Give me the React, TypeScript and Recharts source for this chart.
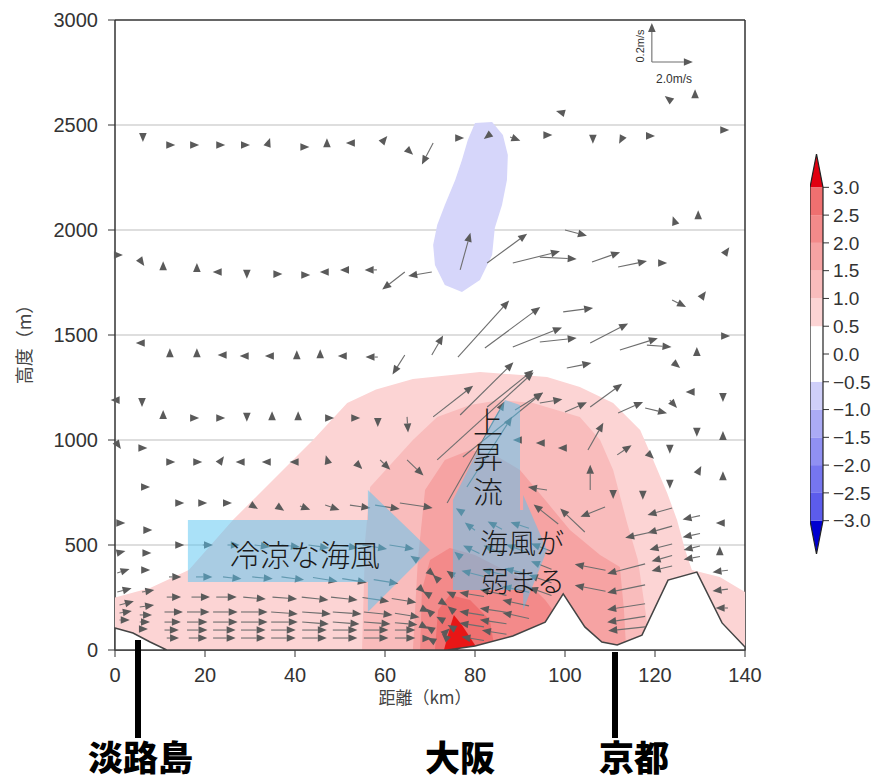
import React from 'react';
import { ScatterChart, Scatter, XAxis, YAxis, ReferenceLine } from 'recharts';

type Pt = [number, number];
type Vec = [number, number, number, number]; // x (km), z (m), u (m/s), w (m/s)

// axes
const distanceTicks = [0, 20, 40, 60, 80, 100, 120, 140];
const heightTicks = [0, 500, 1000, 1500, 2000, 2500, 3000];
const gridHeights = [500, 1000, 1500, 2000, 2500];

// temperature anomaly contours (km, m)
const contour05: Pt[] = [[0, 0], [0, 250], [7.8, 295], [16.4, 381], [26.2, 619], [44, 1000], [51.6, 1176], [58, 1240], [66.2, 1290], [81.1, 1324], [96, 1300], [103.3, 1252], [110.7, 1176], [116.7, 1048], [119.6, 905], [122.7, 748], [124.9, 619], [126.7, 476], [128.2, 381], [134.4, 348], [140, 276], [140, 0]];
const contour10: Pt[] = [[54.9, 0], [55.6, 524], [56.7, 776], [66.2, 1000], [71.6, 1110], [78.9, 1167], [85.6, 1190], [92.9, 1176], [103.3, 1110], [107.8, 1000], [110.7, 857], [113.8, 605], [116.2, 429], [118, 167], [118.9, 0]];
const contour15: Pt[] = [[66.2, 0], [67.3, 429], [68.9, 762], [73.3, 905], [78.9, 952], [84.4, 929], [90, 857], [95.6, 714], [101.1, 571], [107.8, 452], [112.2, 395], [113.1, 190], [113.6, 0]];
const contour20: Pt[] = [[67.8, 0], [68.2, 286], [70, 429], [74.4, 486], [80, 452], [85.6, 390], [91.1, 333], [95.6, 238], [98.9, 143], [100, 0]];
const contour25: Pt[] = [[71.1, 0], [71.8, 190], [74.4, 262], [78.9, 238], [83.3, 143], [84.4, 0]];
const contour30: Pt[] = [[73.1, 0], [74.4, 105], [75.3, 167], [77.1, 119], [80, 24], [80, 0]];
const contourNeg05: Pt[] = [[80, 2510], [83.8, 2514], [86.2, 2452], [87.3, 2357], [87.1, 2238], [86, 2119], [84.4, 2010], [83.8, 1881], [81.1, 1762], [77.1, 1705], [73.3, 1738], [71.1, 1833], [70.7, 1929], [71.6, 2024], [73.3, 2119], [75.6, 2238], [77.1, 2333], [78.4, 2429]];

// terrain profile
const terrain: Pt[] = [[0, 0], [0, 105], [4, 81], [7.8, 38], [11.5, 0], [73.8, 0], [80, 19], [88.4, 67], [95.6, 133], [99.6, 267], [104.4, 110], [108.2, 38], [111.6, 24], [117.1, 71], [122.9, 333], [129.3, 371], [134.9, 129], [140, 14], [140, 0]];

// annotation arrows
const coolBreezeArrow: Pt[] = [[16.2, 619], [56.2, 619], [56.2, 762], [70, 476], [56.2, 181], [56.2, 324], [16.2, 324]];
const updraftArrow: Pt[] = [[75.1, 667], [75.1, 714], [84, 1095], [86.7, 1190], [90, 1167], [90, 667]];
const weakBreezeArrow: Pt[] = [[75.1, 667], [90.7, 667], [90.7, 738], [96, 476], [90.7, 190], [90.7, 286], [75.1, 286]];

// wind vectors
const windRow2400: Vec[] = [[6.2, 2452, 0, -0.035], [11.8, 2405, 0.35, 0], [17.1, 2405, 0.35, 0], [22.9, 2405, 0.35, 0], [28.4, 2405, 0.35, 0], [34, 2410, 0.1, 0.03], [41.6, 2395, 0.35, 0], [47.1, 2405, 0, 0.035], [52.9, 2414, -0.35, 0], [59.6, 2424, 0.2, 0.025], [65.1, 2381, 0.25, -0.025], [70.7, 2414, -0.55, -0.11], [76, 2438, 0.35, 0], [83.1, 2452, -0.25, -0.02], [87.8, 2443, 0.5, -0.02], [95.6, 2452, 0.35, 0], [99.6, 2557, -0.35, 0.01], [106.2, 2443, 0, -0.035], [112.7, 2438, -0.15, -0.03], [118.4, 2448, 0.35, 0], [123.3, 2619, -0.25, 0.02], [128.9, 2638, 0, 0.035], [134.9, 2476, 0.35, 0]];
const windRow1850: Vec[] = [[0.4, 1881, 0.3, 0], [5.6, 1857, 0.2, -0.03], [10.7, 1819, 0, 0.035], [18.2, 1810, 0, 0.035], [23.3, 1800, -0.35, 0], [29.3, 1800, 0, -0.035], [35.6, 1790, 0.35, 0], [41.8, 1786, 0.35, 0], [47.1, 1800, -0.35, 0], [51.6, 1810, -0.35, 0], [58.2, 1810, -0.6, 0], [64.4, 1800, -1.1, -0.09], [70.4, 1800, -1.15, -0.02], [76.7, 1810, 0.5, 0.19], [82.7, 1843, 1.95, 0.15], [88.4, 1843, 2.3, 0.06], [94.4, 1871, 1.8, -0.01], [100, 2000, 1.07, -0.03], [106, 1848, 1.37, 0.05], [111.8, 1824, 1.41, 0.03], [121.1, 1843, 0.35, 0], [124.4, 2038, -0.1, 0.03], [129.6, 2062, 0, 0.035], [135.6, 1890, 0.2, 0.03]];
const windRow1400: Vec[] = [[6.2, 1462, -0.35, 0], [12.2, 1405, 0, 0.035], [18.2, 1405, 0, 0.035], [24.4, 1405, -0.35, 0], [29.3, 1400, -0.35, 0], [34.9, 1400, -0.35, 0], [40.4, 1395, 0, 0.035], [45.6, 1400, 0, 0.035], [51.1, 1400, -0.35, 0], [58.4, 1395, -0.6, 0], [64.4, 1405, -0.6, -0.1], [70.4, 1405, 0.55, 0.1], [76.2, 1395, 2.5, 0.29], [82.2, 1438, 2.7, 0.21], [88.4, 1443, 2.4, 0.1], [94.4, 1467, 1.8, 0.02], [100.4, 1343, 1.2, 0.025], [105.6, 1462, 1.85, 0.1], [112.2, 1429, 1.85, 0.06], [118.2, 1452, 1.2, -0.01], [124, 1371, 0.35, -0.03], [129.3, 1410, 0, 0.035], [135.1, 1495, 0.35, 0], [99.6, 1610, 1.46, 0.02], [123.8, 1667, 0.68, -0.036], [130.4, 1681, 0.2, 0.03]];
const windRow1100: Vec[] = [[0.4, 1190, -0.3, 0], [6, 1190, 0, -0.035], [10.7, 1110, 0, 0.035], [17.1, 1105, 0.35, 0], [22.9, 1105, 0.35, 0], [29.3, 1119, 0, -0.035], [34.9, 1105, 0, 0.035], [40.7, 1105, 0, 0.035], [47.1, 1105, 0.35, 0], [52.9, 1105, 0.35, 0], [58.4, 1095, 0, -0.035], [64.9, 1110, 0.05, -0.08], [70.7, 1110, 1.95, 0.16], [76.7, 1119, 2.6, 0.27], [82.7, 1157, 2.25, 0.19], [88.9, 1143, 1.37, 0.09], [94.4, 1176, 1.1, 0.02], [100, 1133, 1.07, 0.05], [105.6, 1157, 1.56, 0.12], [111.8, 1129, 1.22, 0.056], [117.8, 1152, 1.07, -0.026], [123.3, 1190, 0.35, -0.04], [128.4, 1229, -0.35, 0], [135.1, 1214, 0, -0.035]];
const windRow900: Vec[] = [[0.4, 985, 0.2, -0.03], [5.6, 962, 0.35, 0], [11.8, 895, 0.35, 0], [17.8, 895, 0.35, 0], [23.3, 895, 0.2, 0.03], [28.4, 895, -0.35, 0], [34.2, 895, -0.35, 0], [40.4, 895, -0.35, 0], [47.3, 895, -0.1, 0.035], [53.6, 890, 0.3, -0.03], [58.9, 905, 0.5, -0.05], [64.9, 905, 0.8, -0.08], [71.6, 905, 4.7, 0.45], [77.3, 919, 3.9, 0.33], [90, 1000, -0.35, 0], [95.1, 986, -0.35, 0], [100, 962, -0.35, 0], [105.1, 952, 0.75, 0.14], [111.6, 929, 0.7, 0.05], [118.4, 938, 0.3, -0.03], [123.3, 967, 0, -0.035], [129.3, 1048, 0, -0.035], [135.1, 1010, 0, 0.035]];
const windRow700: Vec[] = [[6.2, 776, 0.35, 0], [13.8, 700, 0.35, 0], [18.9, 700, 0.35, 0], [24.4, 700, 0.35, 0], [30.4, 690, 0.3, -0.02], [36, 686, 0.35, -0.025], [41.1, 686, 0.5, -0.02], [46.7, 690, 0.7, -0.025], [52.2, 690, 1.0, -0.015], [57.8, 690, 1.2, -0.02], [63.3, 700, 1.6, -0.025], [73.8, 700, 2.8, 0.52], [78.2, 776, 2.2, 0.36], [77.1, 657, -0.3, 0.02], [96, 762, -0.93, 0.015], [105.6, 762, 0, 0.13], [110.7, 752, 0, -0.035], [117.3, 748, 0, -0.035], [123.3, 800, 0, -0.035], [129.6, 848, 0.15, 0.03], [135.1, 819, 0, 0.035]];
const windRow500: Vec[] = [[0.7, 605, 0.35, 0], [6.7, 571, 0.35, 0], [0.5, 462, 0.4, 0.01], [6.5, 462, 0.35, 0], [13.8, 500, 0.35, 0], [19.5, 500, 0.5, 0], [25, 500, 0.6, 0], [31, 500, 0.75, -0.01], [37, 500, 0.9, -0.01], [43, 500, 1.0, -0.015], [49, 500, 1.1, -0.015], [55, 500, 1.2, -0.02], [61, 500, 1.2, -0.02]];
const windRow350: Vec[] = [[0.5, 367, 0.6, 0.02], [6, 381, 0.4, 0], [12, 348, 0.6, 0], [18, 348, 0.8, 0], [24, 348, 0.9, -0.01], [30.5, 348, 1.0, -0.01], [37, 348, 1.1, -0.015], [44, 345, 1.2, -0.02], [50.5, 340, 1.2, -0.02], [57.5, 335, 1.2, -0.02]];
const windRow250: Vec[] = [[0.5, 276, 0.7, 0.02], [6, 276, 0.6, 0.01], [11.5, 252, 0.7, 0], [17, 252, 0.9, 0], [22.5, 252, 1.0, 0], [28.5, 252, 1.1, -0.01], [35, 252, 1.2, -0.01], [41.5, 252, 1.3, -0.015], [48, 252, 1.3, -0.015], [55, 250, 1.3, -0.02], [61.5, 245, 1.2, -0.02]];
const windRow180: Vec[] = [[1, 214, 0.7, 0.02], [5.5, 205, 0.7, 0.01], [11, 181, 0.9, 0], [16, 181, 1.1, 0], [21.8, 181, 1.2, 0], [28, 181, 1.3, 0], [34.7, 181, 1.3, -0.01], [41.6, 181, 1.4, -0.01], [48.4, 181, 1.4, -0.01], [55.3, 181, 1.4, -0.015], [62.2, 175, 1.2, -0.02]];
const windRow130: Vec[] = [[1, 176, 0.6, 0.01], [5.5, 167, 0.6, 0], [11, 133, 0.8, 0], [16, 133, 1.0, 0], [21.8, 133, 1.2, 0], [28, 133, 1.3, 0], [34.7, 133, 1.3, 0], [41.6, 133, 1.3, -0.01], [48.4, 133, 1.3, -0.01], [55.3, 133, 1.3, -0.01], [62.2, 130, 1.1, -0.01]];
const windRow95: Vec[] = [[1, 143, 0.5, 0], [5.5, 133, 0.5, 0], [11, 95, 0.7, 0], [16, 95, 1.0, 0], [21.8, 95, 1.1, 0], [28, 95, 1.2, 0], [34.7, 95, 1.2, 0], [41.6, 95, 1.2, 0], [48.4, 95, 1.2, 0], [55.3, 95, 1.2, 0], [62.2, 95, 1.0, 0]];
const windRow57: Vec[] = [[5.5, 100, 0.4, 0], [11.5, 57, 0.6, 0], [16.4, 57, 0.9, 0], [21.8, 57, 1.1, 0], [28, 57, 1.2, 0], [34.7, 57, 1.2, 0], [41.6, 57, 1.2, 0], [48.4, 57, 1.2, 0], [55.3, 57, 1.2, 0], [62.2, 57, 1.0, 0]];
const convergenceZone: Vec[] = [[67, 430, -0.3, 0.02], [69.5, 380, 0.35, -0.03], [72, 330, -0.3, 0.03], [67.5, 300, 0.3, -0.03], [70, 260, -0.35, 0.02], [72.5, 230, 0.3, -0.02], [68, 200, 0.4, -0.02], [70.5, 170, -0.3, 0.03], [73, 140, -0.35, 0.02], [68, 120, 0.35, -0.02], [70.5, 95, -0.3, 0.02], [73, 75, 0.3, 0.03], [68.5, 55, 0.4, 0], [71, 40, -0.35, 0.02], [74, 50, -0.3, 0.03], [75.5, 100, -0.35, 0.02], [75.5, 180, -0.35, 0.03], [75.5, 260, -0.4, 0.02], [75.5, 350, -0.4, 0.03], [77, 440, -0.35, 0.03]];
const easterlyRows: Vec[] = [[82, 45, -1.1, 0.02], [87, 75, -1.2, 0.02], [82, 110, -1.2, 0.02], [87, 125, -1.3, 0.02], [92, 150, -1.3, 0.03], [82, 165, -1.2, 0.02], [87, 180, -1.3, 0.02], [92, 210, -1.3, 0.03], [97, 260, -1.1, 0.04], [82, 255, -1.2, 0.02], [87, 260, -1.3, 0.03], [92, 275, -1.3, 0.03], [97, 320, -1.1, 0.04], [82, 350, -1.1, 0.03], [87, 355, -1.2, 0.03], [92, 360, -1.2, 0.03], [97, 385, -1.0, 0.04], [81, 460, -0.8, 0.04], [86, 460, -0.9, 0.04], [91.5, 465, -1.0, 0.04], [97, 470, -1.0, 0.04], [80, 570, -0.5, 0.04], [86, 575, -0.7, 0.04], [92, 580, -0.9, 0.03], [98.5, 600, -1.2, 0.1]];
const kyotoValley: Vec[] = [[117.8, 410, -1.85, -0.05], [117.8, 310, -1.85, -0.04], [117.8, 220, -1.85, -0.03], [117.8, 160, -1.85, -0.03], [117.8, 110, -1.8, -0.02], [109, 380, -1.5, 0.03], [109, 280, -1.5, 0.03], [123.8, 676, -1.2, -0.036], [123.8, 590, -1.2, -0.036], [123.8, 505, -1.1, -0.03], [123.8, 450, -1.0, -0.03], [123.8, 400, -1.0, -0.025], [130, 640, -0.85, -0.02], [130, 555, -0.85, -0.02], [130, 495, -0.8, -0.02], [130, 445, -0.8, -0.015], [136.2, 380, -0.75, -0.01], [136.2, 290, -0.75, -0.01], [136.2, 200, -0.6, 0], [135.1, 605, -0.35, 0], [134.4, 462, 0, 0.035], [104.4, 562, -1.2, 0.12], [119.3, 562, -1.3, -0.03], [108.9, 681, -1.2, -0.05]];

// reference vectors (2.0 m/s horizontal, 0.2 m/s vertical)
const vectorKey: Vec[] = [[119.3, 2800, 2.0, 0], [119.3, 2800, 0, 0.2]];

// colour bar
const colorLevels = [-3, -2.5, -2, -1.5, -1, -0.5, 0, 0.5, 1, 1.5, 2, 2.5, 3];
const levelColors = ['#5c5cec', '#7676ef', '#9090f2', '#ababf5', '#cfcff9', '#ffffff', '#ffffff', '#fcd4d4', '#f9bcbc', '#f6a3a3', '#f38a8a', '#ef7070'];

const U_PX = 20.5; // px per m/s (horizontal)
const W_PX = 195; // px per m/s (vertical)

const toXY = (pts: Pt[]) => pts.map(([x, y]) => ({ x, y }));
const toVec = (rows: Vec[]) => rows.map(([x, y, u, w]) => ({ x, y, u, w }));

const polygonLine = (fill: string, stroke = 'none', strokeWidth = 0) => (props: any) => {
    const pts = (props.points || []).map((p: any) => `${p.x},${p.y}`).join(' ');
    return <polygon points={pts} fill={fill} stroke={stroke} strokeWidth={strokeWidth} />;
};
const noDot = () => <g />;

const VectorShape = (props: any) => {
    const { cx, cy, payload } = props;
    if (cx == null || cy == null || !payload) return <g />;
    const dx = payload.u * U_PX;
    const dy = -payload.w * W_PX;
    const len = Math.hypot(dx, dy);
    if (!len) return <g />;
    const ux = dx / len;
    const uy = dy / len;
    const tx = cx + dx;
    const ty = cy + dy;
    const hl = 9;
    const hw = 3.8;
    const bx = tx - ux * hl;
    const by = ty - uy * hl;
    return (
        <g>
            {len > hl && <line x1={cx} y1={cy} x2={bx} y2={by} stroke="#6e6e6e" strokeWidth={1.1} />}
            <polygon
                points={`${tx},${ty} ${bx - uy * hw},${by + ux * hw} ${bx + uy * hw},${by - ux * hw}`}
                fill="#5a5a5a"
            />
        </g>
    );
};

const allVectors = toVec([
    ...windRow2400, ...windRow1850, ...windRow1400, ...windRow1100, ...windRow900, ...windRow700,
    ...windRow500, ...windRow350, ...windRow250, ...windRow180, ...windRow130, ...windRow95, ...windRow57,
    ...convergenceZone, ...easterlyRows, ...kyotoValley,
]);

const contourLayers: { pts: Pt[]; fill: string }[] = [
    { pts: contour05, fill: levelColors[7] },
    { pts: contour10, fill: levelColors[8] },
    { pts: contour15, fill: levelColors[9] },
    { pts: contour20, fill: levelColors[10] },
    { pts: contour25, fill: levelColors[11] },
    { pts: contour30, fill: '#e81616' },
    { pts: contourNeg05, fill: '#d6d6fa' },
];

const annotationFill = 'rgba(85,195,241,0.5)';
const tickFont = { fill: '#333', fontSize: 20, fontFamily: '"Liberation Sans", Arial, sans-serif' };
const jp = '"Noto Sans CJK JP", sans-serif';

const fmtLevel = (v: number) => (v < 0 ? '\u2212' : '') + Math.abs(v).toFixed(1);

function ColorBar() {
    const segments = levelColors.map((c, i) => ({
        pts: [[0, colorLevels[i]], [1, colorLevels[i]], [1, colorLevels[i + 1]], [0, colorLevels[i + 1]]] as Pt[],
        fill: c,
    }));
    const topTip: Pt[] = [[0, 3], [1, 3], [0.5, 3.6]];
    const bottomTip: Pt[] = [[0, -3], [1, -3], [0.5, -3.6]];
    const outline: Pt[] = [[0, -3], [0, 3], [0.5, 3.6], [1, 3], [1, -3], [0.5, -3.6]];
    return (
        <ScatterChart width={80} height={400} margin={{ top: 0, right: 7, bottom: 0, left: 0 }}>
            <XAxis dataKey="x" type="number" domain={[0, 1]} hide />
            <YAxis
                dataKey="y"
                type="number"
                orientation="right"
                domain={[-3.6, 3.6]}
                ticks={colorLevels}
                interval={0}
                width={60}
                axisLine={false}
                tickLine={{ stroke: '#333' }}
                tickSize={6}
                tickMargin={4}
                tickFormatter={fmtLevel}
                tick={{ ...tickFont, fontSize: 19, textAnchor: 'start' }}
            />
            {segments.map((s, i) => (
                <Scatter key={i} data={toXY(s.pts)} line={polygonLine(s.fill)} shape={noDot} isAnimationActive={false} />
            ))}
            <Scatter data={toXY(topTip)} line={polygonLine('#e00010')} shape={noDot} isAnimationActive={false} />
            <Scatter data={toXY(bottomTip)} line={polygonLine('#0000d0')} shape={noDot} isAnimationActive={false} />
            <Scatter data={toXY(outline)} line={polygonLine('none', '#222', 1.2)} shape={noDot} isAnimationActive={false} />
        </ScatterChart>
    );
}

const abs = (left: number, top: number, extra: React.CSSProperties = {}): React.CSSProperties => ({
    position: 'absolute', left, top, whiteSpace: 'nowrap', ...extra,
});

const noteStyle: React.CSSProperties = { fontFamily: jp, color: '#1a1a1a', fontWeight: 300 };
const placeStyle: React.CSSProperties = { fontFamily: jp, fontSize: 35, lineHeight: '35px', fontWeight: 900, color: '#000' };

export default function App() {
    return (
        <div style={{ position: 'absolute', left: 0, top: 0, width: 885, height: 782, background: '#fff', overflow: 'hidden' }}>
            <ScatterChart width={885} height={782} margin={{ top: 10, right: 130, bottom: 102, left: 55 }}>
                <XAxis
                    dataKey="x"
                    type="number"
                    domain={[0, 140]}
                    ticks={distanceTicks}
                    interval={0}
                    height={30}
                    axisLine={{ stroke: '#333', strokeWidth: 1.5 }}
                    tickLine={{ stroke: '#333' }}
                    tickSize={7}
                    tickMargin={11}
                    tick={tickFont}
                />
                <XAxis
                    xAxisId="top"
                    orientation="top"
                    dataKey="x"
                    type="number"
                    domain={[0, 140]}
                    ticks={distanceTicks}
                    interval={0}
                    height={10}
                    axisLine={{ stroke: '#333', strokeWidth: 1.5 }}
                    tickLine={{ stroke: '#333' }}
                    tickSize={7}
                    tickFormatter={() => ''}
                />
                <YAxis
                    dataKey="y"
                    type="number"
                    domain={[0, 3000]}
                    ticks={heightTicks}
                    interval={0}
                    width={60}
                    axisLine={{ stroke: '#333', strokeWidth: 1.5 }}
                    tickLine={{ stroke: '#333' }}
                    tickSize={7}
                    tickMargin={10}
                    tick={tickFont}
                />
                <YAxis
                    yAxisId="right"
                    orientation="right"
                    dataKey="y"
                    type="number"
                    domain={[0, 3000]}
                    ticks={heightTicks}
                    interval={0}
                    width={10}
                    axisLine={{ stroke: '#333', strokeWidth: 1.5 }}
                    tickLine={{ stroke: '#333' }}
                    tickSize={7}
                    tickFormatter={() => ''}
                />

                {contourLayers.map((c, i) => (
                    <Scatter key={`c${i}`} data={toXY(c.pts)} line={polygonLine(c.fill)} shape={noDot} isAnimationActive={false} />
                ))}
                <Scatter data={toXY(terrain)} line={polygonLine('#ffffff', '#444', 1.5)} shape={noDot} isAnimationActive={false} />

                {gridHeights.map(h => (
                    <ReferenceLine key={h} y={h} stroke="#bdbdbd" strokeWidth={1} />
                ))}

                <Scatter data={allVectors} shape={VectorShape} isAnimationActive={false} />
                <Scatter data={toVec(vectorKey)} shape={VectorShape} isAnimationActive={false} />

                <Scatter data={toXY(coolBreezeArrow)} line={polygonLine(annotationFill)} shape={noDot} isAnimationActive={false} />
                <Scatter data={toXY(updraftArrow)} line={polygonLine(annotationFill)} shape={noDot} isAnimationActive={false} />
                <Scatter data={toXY(weakBreezeArrow)} line={polygonLine(annotationFill)} shape={noDot} isAnimationActive={false} />
            </ScatterChart>

            <div style={abs(810, 154)}>
                <ColorBar />
            </div>

            {/* axis titles */}
            <div style={abs(23, 340, { transform: 'translate(-50%, -50%) rotate(-90deg)', fontFamily: jp, fontSize: 18, lineHeight: '20px', color: '#444' })}>
                高度（m）
            </div>
            <div style={abs(425, 697, { transform: 'translate(-50%, -50%)', fontFamily: jp, fontSize: 17, lineHeight: '18px', color: '#444' })}>
                距離（km）
            </div>

            {/* vector key labels */}
            <div style={abs(640, 46, { transform: 'translate(-50%, -50%) rotate(-90deg)', fontFamily: tickFont.fontFamily, fontSize: 11, color: '#333' })}>
                0.2m/s
            </div>
            <div style={abs(674, 79, { transform: 'translate(-50%, -50%)', fontFamily: tickFont.fontFamily, fontSize: 12, color: '#333' })}>
                2.0m/s
            </div>

            {/* annotations */}
            <div style={abs(230, 538, { ...noteStyle, fontSize: 30, lineHeight: '30px' })}>冷涼な海風</div>
            <div style={abs(473, 407, { ...noteStyle, fontSize: 30, lineHeight: '30px', writingMode: 'vertical-rl', letterSpacing: 5 })}>
                上昇流
            </div>
            <div style={abs(480, 528, { ...noteStyle, fontSize: 28, lineHeight: '28px' })}>海風が</div>
            <div style={abs(481, 566, { ...noteStyle, fontSize: 28, lineHeight: '28px' })}>弱まる</div>

            {/* place names */}
            <div style={abs(135, 640, { width: 6, height: 98, background: '#000' })} />
            <div style={abs(612, 652, { width: 6, height: 86, background: '#000' })} />
            <div style={abs(88, 738, placeStyle)}>淡路島</div>
            <div style={abs(425, 738, placeStyle)}>大阪</div>
            <div style={abs(599, 738, placeStyle)}>京都</div>
        </div>
    );
}
